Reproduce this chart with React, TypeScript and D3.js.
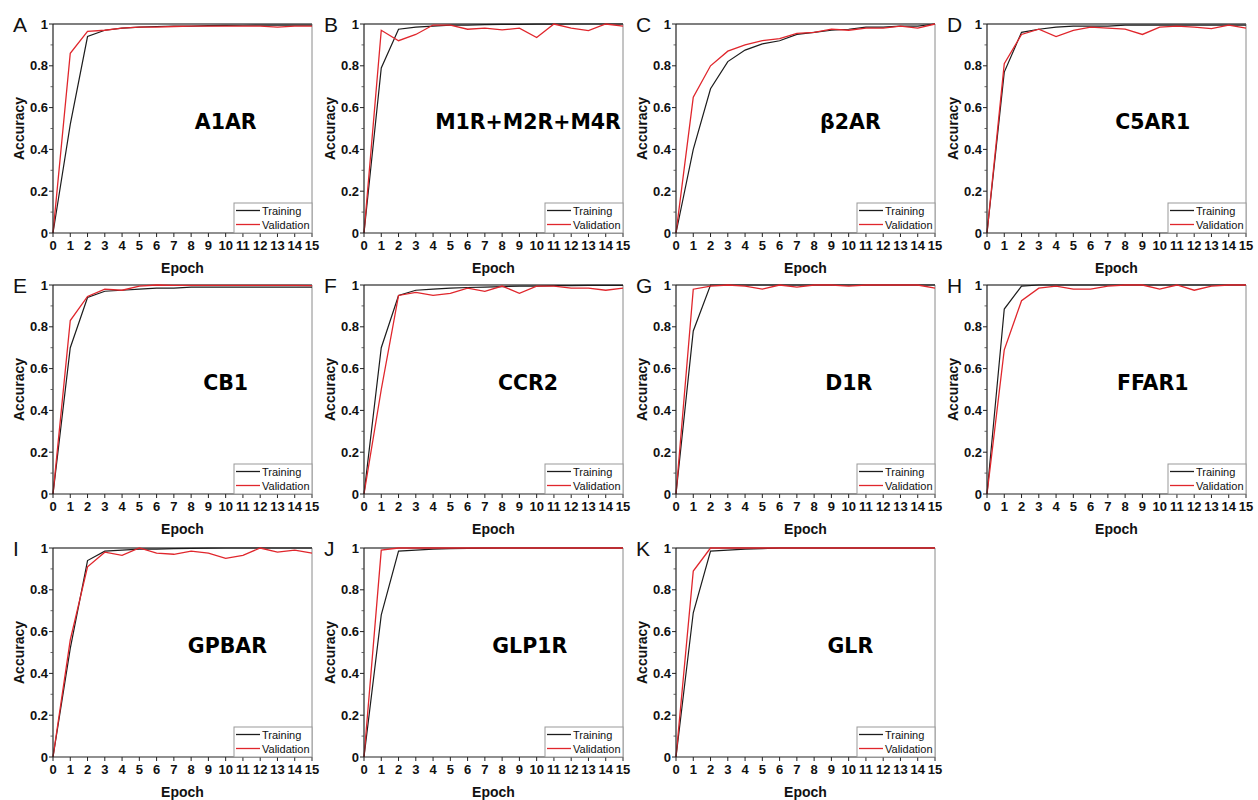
import React from "react";
import * as d3 from "d3";

const letters = ["A", "B", "C", "D", "E", "F", "G", "H", "I", "J", "K"];
const names = ["A1AR", "M1R+M2R+M4R", "β2AR", "C5AR1", "CB1", "CCR2", "D1R", "FFAR1", "GPBAR", "GLP1R", "GLR"];
const epochs = d3.range(0, 16);
const xTicks = d3.range(0, 16);
const yTicks = [0, 0.2, 0.4, 0.6, 0.8, 1];
const yTickLabels = ["0", "0.2", "0.4", "0.6", "0.8", "1"];
const yMinorTicks = [0.1, 0.3, 0.5, 0.7, 0.9];
const legendLabels = ["Training", "Validation"];

const trainA = [0, 0.52, 0.94, 0.97, 0.98, 0.985, 0.988, 0.99, 0.99, 0.992, 0.993, 0.994, 0.995, 0.995, 0.995, 0.995];
const validA = [0, 0.86, 0.965, 0.97, 0.98, 0.985, 0.985, 0.988, 0.99, 0.99, 0.99, 0.99, 0.99, 0.985, 0.99, 0.99];
const trainB = [0, 0.79, 0.975, 0.985, 0.99, 0.995, 0.995, 0.997, 0.998, 0.998, 0.999, 0.999, 1, 1, 1, 1];
const validB = [0, 0.97, 0.92, 0.95, 0.995, 0.995, 0.975, 0.98, 0.972, 0.98, 0.935, 1.0, 0.98, 0.968, 1.0, 0.99];
const trainC = [0, 0.4, 0.69, 0.82, 0.875, 0.905, 0.92, 0.95, 0.96, 0.97, 0.975, 0.985, 0.985, 0.99, 0.99, 1.0];
const validC = [0, 0.65, 0.8, 0.87, 0.9, 0.92, 0.93, 0.955, 0.96, 0.975, 0.97, 0.98, 0.98, 0.99, 0.98, 1.0];
const trainD = [0, 0.77, 0.96, 0.975, 0.985, 0.99, 0.99, 0.99, 0.995, 0.995, 0.995, 0.995, 0.995, 0.995, 0.995, 0.995];
const validD = [0, 0.81, 0.95, 0.975, 0.94, 0.97, 0.985, 0.98, 0.975, 0.95, 0.985, 0.99, 0.985, 0.978, 0.995, 0.98];
const trainE = [0, 0.7, 0.94, 0.97, 0.975, 0.98, 0.985, 0.985, 0.99, 0.99, 0.99, 0.99, 0.99, 0.99, 0.99, 0.99];
const validE = [0, 0.83, 0.945, 0.98, 0.975, 0.995, 1.0, 0.998, 0.998, 0.998, 0.998, 0.998, 0.998, 0.998, 0.998, 0.997];
const trainF = [0, 0.7, 0.95, 0.975, 0.98, 0.985, 0.988, 0.99, 0.992, 0.995, 0.995, 0.997, 0.997, 0.998, 0.998, 0.998];
const validF = [0, 0.5, 0.95, 0.965, 0.95, 0.96, 0.985, 0.97, 0.995, 0.96, 0.995, 0.995, 0.985, 0.985, 0.975, 0.985];
const trainG = [0, 0.78, 1.0, 1, 1, 1, 1, 1, 1, 1, 1, 1, 1, 1, 1, 1];
const validG = [0, 0.98, 0.995, 1.0, 0.995, 0.98, 1.0, 0.99, 1.0, 1.0, 0.995, 1.0, 1.0, 1.0, 1.0, 0.985];
const trainH = [0, 0.885, 0.995, 1, 1, 1, 1, 1, 1, 1, 1, 1, 1, 1, 1, 1];
const validH = [0, 0.69, 0.925, 0.985, 0.995, 0.98, 0.98, 0.995, 1.0, 1.0, 0.98, 1.0, 0.975, 0.995, 1.0, 1.0];
const trainI = [0, 0.52, 0.94, 0.985, 0.99, 0.995, 0.995, 0.997, 0.998, 0.999, 1, 1, 1, 1, 1, 1];
const validI = [0, 0.56, 0.91, 0.98, 0.965, 1.0, 0.975, 0.97, 0.985, 0.975, 0.95, 0.965, 1.0, 0.98, 0.99, 0.975];
const trainJ = [0, 0.68, 0.985, 0.99, 0.995, 0.997, 0.998, 0.999, 1, 1, 1, 1, 1, 1, 1, 1];
const validJ = [0, 0.99, 1.0, 1.0, 1.0, 1.0, 1.0, 1.0, 1.0, 1.0, 1.0, 1.0, 1.0, 1.0, 1.0, 1.0];
const trainK = [0, 0.69, 0.985, 0.99, 0.995, 0.997, 1, 1, 1, 1, 1, 1, 1, 1, 1, 1];
const validK = [0, 0.89, 1.0, 1.0, 1.0, 1.0, 1.0, 1.0, 1.0, 1.0, 1.0, 1.0, 1.0, 1.0, 1.0, 1.0];

const trainSeries = [trainA, trainB, trainC, trainD, trainE, trainF, trainG, trainH, trainI, trainJ, trainK];
const validSeries = [validA, validB, validC, validD, validE, validF, validG, validH, validI, validJ, validK];

// layout (annotation anchor in epoch units, not data)
const labelAnchorEpoch = [10.0, 9.5, 10.1, 9.6, 10.0, 9.5, 10.0, 9.6, 10.1, 9.6, 10.1];
const colLefts = [53, 364, 676, 987];
const rowTops = [24, 285, 548];
const PW = 259;
const PH = 209;
const TRAIN_COLOR = "#1c1c1c";
const VALID_COLOR = "#e0262c";
const FONT = "'Liberation Sans', Arial, Helvetica, sans-serif";

function Panel({ idx }: { idx: number }) {
  const col = idx % 4;
  const row = Math.floor(idx / 4);
  const left = colLefts[col];
  const top = rowTops[row];
  const x = d3.scaleLinear().domain([0, 15]).range([left, left + PW]);
  const y = d3.scaleLinear().domain([0, 1]).range([top + PH, top]);
  const line = d3
    .line<number>()
    .x((_, i) => x(epochs[i]))
    .y((d) => y(d));
  const bottom = top + PH;
  const right = left + PW;
  const lgLeft = right - 78;
  const lgTop = bottom - 30;
  return (
    <g>
      <line x1={left} x2={right} y1={top} y2={top} stroke="#555" strokeWidth={1.6} />
      <line x1={right} x2={right} y1={top} y2={bottom} stroke="#8a8a8a" strokeWidth={1} />
      <path d={line(trainSeries[idx]) || ""} fill="none" stroke={TRAIN_COLOR} strokeWidth={1.2} />
      <path d={line(validSeries[idx]) || ""} fill="none" stroke={VALID_COLOR} strokeWidth={1.3} />
      <line x1={left} x2={left} y1={top} y2={bottom} stroke="#222" strokeWidth={1.2} />
      <line x1={left} x2={right} y1={bottom} y2={bottom} stroke="#222" strokeWidth={1.2} />
      {yTicks.map((t, i) => (
        <g key={"yt" + i}>
          <line x1={left - 4} x2={left} y1={y(t)} y2={y(t)} stroke="#222" strokeWidth={1} />
          <text x={left - 5} y={y(t) + 4.5} textAnchor="end" fontFamily={FONT} fontWeight="bold" fontSize={13} fill="#111">
            {yTickLabels[i]}
          </text>
        </g>
      ))}
      {yMinorTicks.map((t, i) => (
        <line key={"ym" + i} x1={left - 2.5} x2={left} y1={y(t)} y2={y(t)} stroke="#444" strokeWidth={0.8} />
      ))}
      {xTicks.map((t) => (
        <g key={"xt" + t}>
          <line x1={x(t)} x2={x(t)} y1={bottom} y2={bottom + 4} stroke="#222" strokeWidth={1} />
          <text x={x(t)} y={bottom + 17} textAnchor="middle" fontFamily={FONT} fontWeight="bold" fontSize={13} fill="#111">
            {t}
          </text>
        </g>
      ))}
      <text
        transform={`translate(${left - 34},${(top + bottom) / 2}) rotate(-90)`}
        textAnchor="middle"
        dominantBaseline="central"
        fontFamily={FONT}
        fontWeight="bold"
        fontSize={14}
        fill="#111"
      >
        Accuracy
      </text>
      <text x={(left + right) / 2} y={bottom + 40} textAnchor="middle" fontFamily={FONT} fontWeight="bold" fontSize={14} fill="#111">
        Epoch
      </text>
      <text x={left - 40} y={top + 8} fontFamily={FONT} fontSize={21} fill="#111">
        {letters[idx]}
      </text>
      <text
        x={x(labelAnchorEpoch[idx])}
        y={y(0.53)}
        textAnchor="middle"
        dominantBaseline="central"
        fontFamily="'DejaVu Sans', sans-serif"
        fontWeight="bold"
        fontSize={20.5}
        fill="#000"
      >
        {names[idx]}
      </text>
      <rect x={lgLeft} y={lgTop} width={78} height={30} fill="white" stroke="#999" strokeWidth={1} />
      {legendLabels.map((lab, i) => (
        <g key={lab}>
          <line
            x1={lgLeft + 2}
            x2={lgLeft + 26}
            y1={lgTop + 7.5 + i * 14}
            y2={lgTop + 7.5 + i * 14}
            stroke={i === 0 ? TRAIN_COLOR : VALID_COLOR}
            strokeWidth={1.3}
          />
          <text x={lgLeft + 28} y={lgTop + 11.5 + i * 14} fontFamily={FONT} fontSize={11} fill="#111">
            {lab}
          </text>
        </g>
      ))}
    </g>
  );
}

export default function App() {
  return (
    <div style={{ position: "absolute", left: 0, top: 0 }}>
      <svg width={1258} height={800} style={{ display: "block", background: "white" }}>
        <rect width={1258} height={800} fill="white" />
        {names.map((_, i) => (
          <Panel key={i} idx={i} />
        ))}
      </svg>
    </div>
  );
}
